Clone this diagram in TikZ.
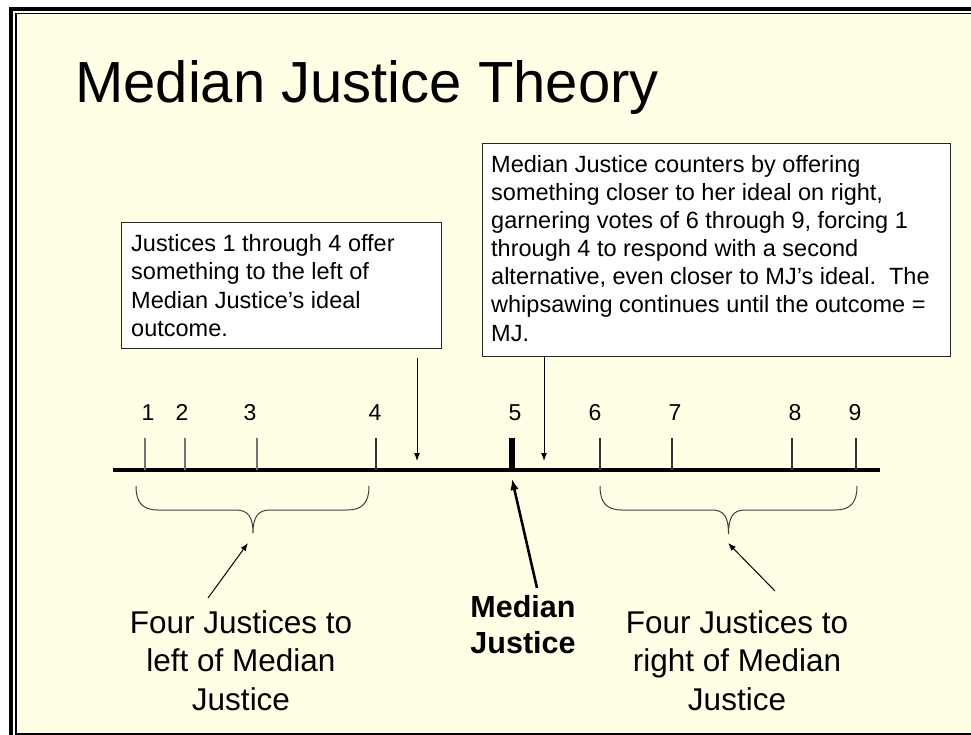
\documentclass[tikz,border=0pt]{standalone}
\usepackage{fontspec}
\setmainfont{Liberation Sans}
\usetikzlibrary{arrows.meta}
\definecolor{cream}{RGB}{255,255,230}
\begin{document}
\begin{tikzpicture}[x=1pt,y=-1pt,
  callout/.style={draw=black!85, line width=1pt, fill=white, inner sep=0pt, anchor=north west},
  txt/.style={inner sep=0pt, anchor=base west},
  num/.style={inner sep=0pt, anchor=base, font=\fontsize{23}{27}\selectfont},
  lighttick/.style={line width=1.2pt, draw=black!55},
  darktick/.style={line width=1.2pt, draw=black!80},
  bracepath/.style={line width=1pt, draw=black!75},
  thinarrow/.style={line width=1pt, -{Latex[length=8pt,width=6pt]}},
  bigarrow/.style={line width=2.6pt, -{Latex[length=11pt,width=8.5pt]}},
  lbl/.style={inner sep=0pt, anchor=base}]
\useasboundingbox (0,0) rectangle (971,735);
% background and frame
\fill[white] (0,0) rectangle (971,735);
\fill[cream] (16.5,14.5) rectangle (971,733.3);
\fill[black] (9,7) rectangle (13.3,735);
\fill[black] (9,7) rectangle (971,11);
\fill[black] (14.7,12.7) rectangle (16.5,735);
\fill[black] (14.7,12.7) rectangle (971,14.5);
\fill[black] (14.7,733.3) rectangle (971,735);
% title
\node[txt, font=\fontsize{58}{70}\selectfont] (title) at (75,103) {Median Justice Theory};
% callout boxes
\node[callout, minimum width=320pt, minimum height=126pt] (box1) at (121,222) {};
\node[txt] (box1text) at (131,251.7) {\parbox[t]{305pt}{\fontsize{23.5}{28.3}\selectfont\raggedright
Justices 1 through 4 offer\\ something to the left of\\ Median Justice’s ideal\\ outcome.}};
\node[callout, minimum width=468pt, minimum height=213pt] (box2) at (482,143) {};
\node[txt] (box2text) at (491,172.5) {\parbox[t]{455pt}{\fontsize{23.5}{28.1}\selectfont\raggedright
Median Justice counters by offering\\ something closer to her ideal on right,\\ garnering votes of 6 through 9, forcing 1\\ through 4 to respond with a second\\ alternative, even closer to MJ’s ideal.\ \ The\\ whipsawing continues until the outcome =\\ MJ.}};
% axis
\draw[line width=4pt] (113,470) -- (880,470);
% ticks
\coordinate (k1) at (145,438); \coordinate (k2) at (185,438);
\coordinate (k3) at (257,438); \coordinate (k4) at (376,438);
\coordinate (k6) at (600,438); \coordinate (k7) at (672,438);
\coordinate (k8) at (792,438); \coordinate (k9) at (856,438);
\draw[lighttick] (k1) -- (145,470);
\draw[lighttick] (k2) -- (185,470);
\draw[lighttick] (k3) -- (257,470);
\draw[darktick] (k4) -- (376,470);
\draw[darktick] (k6) -- (600,470);
\draw[darktick] (k7) -- (672,470);
\draw[darktick] (k8) -- (792,470);
\draw[darktick] (k9) -- (856,470);
\draw[line width=6pt] (512,438) -- (512,470);
% numbers
\node[num] (n1) at (148,420) {1};
\node[num] (n2) at (182,420) {2};
\node[num] (n3) at (250,420) {3};
\node[num] (n4) at (375,420) {4};
\node[num] (n5) at (515,420) {5};
\node[num] (n6) at (595,420) {6};
\node[num] (n7) at (675,420) {7};
\node[num] (n8) at (795,420) {8};
\node[num] (n9) at (855,420) {9};
% offer arrows
\coordinate (o1s) at (417,358); \coordinate (o1) at (417,461);
\coordinate (o2) at (544,461);
\draw[thinarrow] (o1s) -- (o1);
\draw[thinarrow] (box2.south -| o2) -- (o2);
% braces
\draw[bracepath] (136,486) .. controls (136,502) and (142,510) .. (158,510) -- (236,510)
  .. controls (248,510) and (253,517) .. (253,533)
  .. controls (253,517) and (258,510) .. (270,510) -- (347,510)
  .. controls (363,510) and (369,502) .. (369,486);
\draw[bracepath] (600,486) .. controls (600,502) and (606,510) .. (622,510) -- (712,510)
  .. controls (724,510) and (728.5,517) .. (728.5,534)
  .. controls (728.5,517) and (733,510) .. (745,510) -- (835,510)
  .. controls (851,510) and (857,502) .. (857,486);
% bottom labels
\node[lbl] (leftlbl) at (241,633) {\parbox[t]{300pt}{\centering\fontsize{31.5}{38.5}\selectfont
Four Justices to\\ left of Median\\ Justice}};
\node[lbl] (rightlbl) at (737,633) {\parbox[t]{300pt}{\centering\fontsize{31.5}{38.5}\selectfont
Four Justices to\\ right of Median\\ Justice}};
\node[lbl] (mjlbl) at (523,617) {\parbox[t]{200pt}{\centering\fontsize{30.5}{36}\selectfont\bfseries
Median\\ Justice}};
% label arrows
\coordinate (la) at (208,598); \coordinate (lb) at (248,543);
\coordinate (ra) at (775,591); \coordinate (rb) at (728,543);
\coordinate (ma) at (537,588); \coordinate (mb) at (512,479);
\draw[thinarrow] (la) -- (lb);
\draw[thinarrow] (ra) -- (rb);
\draw[bigarrow] (ma) -- (mb);
\end{tikzpicture}
\end{document}
